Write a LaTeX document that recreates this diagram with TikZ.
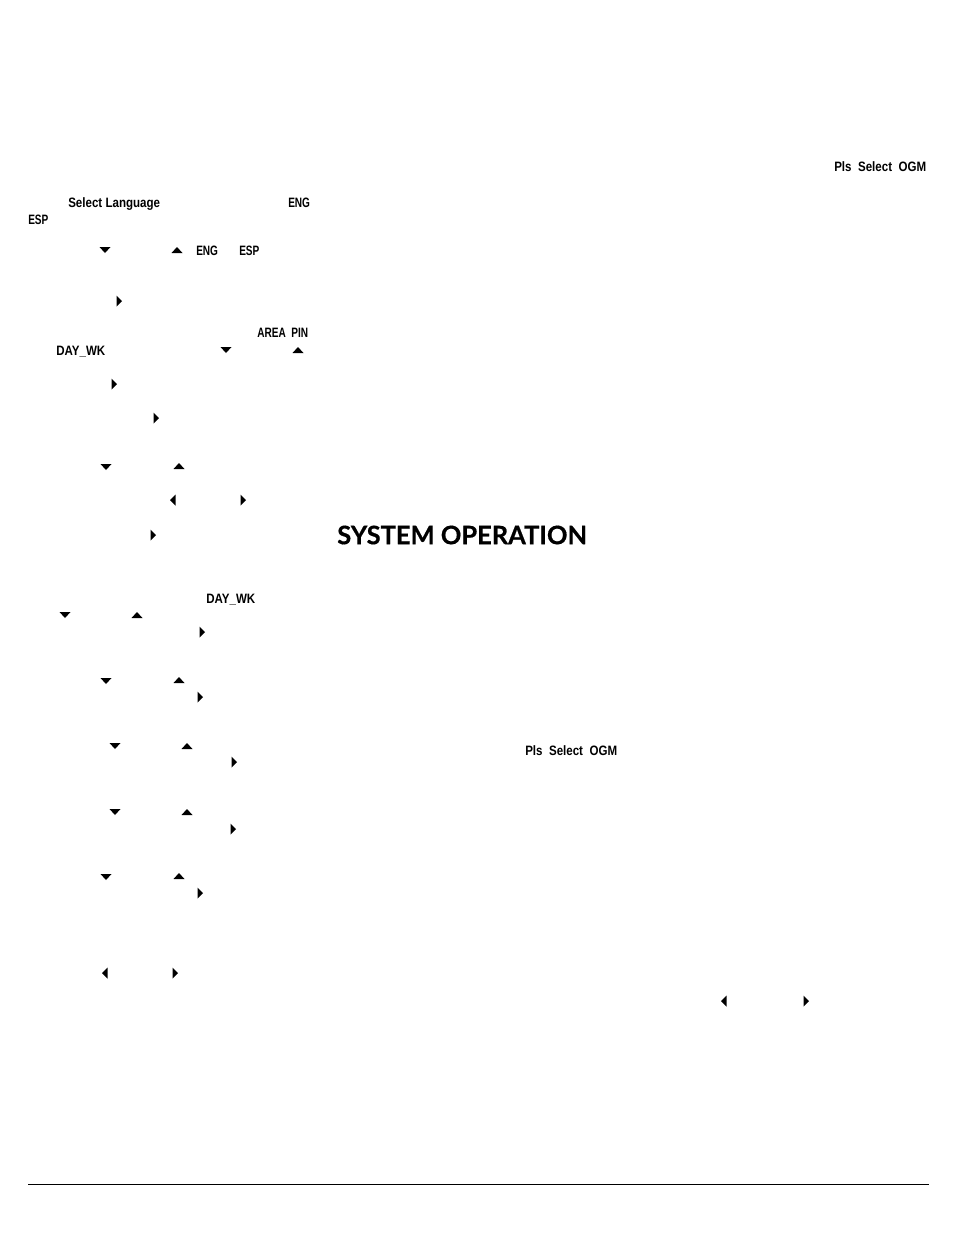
\documentclass[tikz,border=0pt]{standalone}
\usepackage{xcolor}
\usepackage{fontspec}
\newfontfamily\lcdfont[FakeStretch=0.85]{Liberation Sans}
\newfontfamily\lcdcaps[FakeStretch=0.74]{Liberation Sans}
\newfontfamily\titlefont[FakeBold=0.6]{Lato}
\tikzset{%
lcd/.style={anchor=west, inner sep=0pt, font=\lcdfont\bfseries\fontsize{10.2pt}{12pt}\selectfont},%
lcdshort/.style={anchor=west, inner sep=0pt, font=\lcdcaps\bfseries\fontsize{10.2pt}{12pt}\selectfont},%
heading/.style={anchor=west, inner sep=0pt, font=\titlefont\bfseries\fontsize{19.1pt}{24pt}\selectfont},%
tridown/.pic={\fill (-5.5,-3) -- (5.5,-3) -- (0,3) -- cycle;},%
triup/.pic={\fill (-5.5,3) -- (5.5,3) -- (0,-3) -- cycle;},%
triright/.pic={\fill (-2.5,-5.5) -- (-2.5,5.5) -- (3,0) -- cycle;},%
trileft/.pic={\fill (2.5,-5.5) -- (2.5,5.5) -- (-3,0) -- cycle;},%
}

\begin{document}
\begin{tikzpicture}[x=0.75pt, y=-0.75pt]%
\useasboundingbox (0,0) rectangle (954,1235);%
\node[lcd] (plsTop) at (834,167) {Pls\ \ Select\ \ OGM};%
\node[lcd] (selectLang) at (68,204.5) {Select Language};%
\node[lcdshort] (engTop) at (288,203) {ENG};%
\node[lcdshort] (espTop) at (28,220) {ESP};%
\node[lcdshort] (engMid) at (196,251) {ENG};%
\node[lcdshort] (espMid) at (239,251) {ESP};%
\node[lcdshort] (areaPin) at (257,333) {AREA\ \ PIN};%
\node[lcd] (dayOne) at (56,351.5) {DAY\_WK};%
\node[lcd] (dayTwo) at (206,599.5) {DAY\_WK};%
\node[lcd] (plsMid) at (525,751) {Pls\ \ Select\ \ OGM};%
\node[heading] (title) at (337,535) {SYSTEM OPERATION};%
% arrow glyphs
\foreach \x/\y in {105/250, 226/350, 106/467, 65/615, 106/681, 115/746, 115/812, 106/877}
  \pic at (\x,\y) {tridown};%
\foreach \x/\y in {177/250, 298/350, 179/466, 137/615, 179/680, 187/746, 187/812, 179/876}
  \pic at (\x,\y) {triup};%
\foreach \x/\y in {119/301, 114/384, 156/418, 243/500, 153/535, 202/632, 200/697, 234/762, 233/829, 200/893, 175/973, 806/1001}
  \pic at (\x,\y) {triright};%
\foreach \x/\y in {173/500, 105/973, 724/1001}
  \pic at (\x,\y) {trileft};%
\coordinate (ruleL) at (28,1184.6);%
\coordinate (ruleR) at (929,1184.6);%
\draw[line width=0.75pt] (ruleL) -- (ruleR);%
\end{tikzpicture}
\end{document}
